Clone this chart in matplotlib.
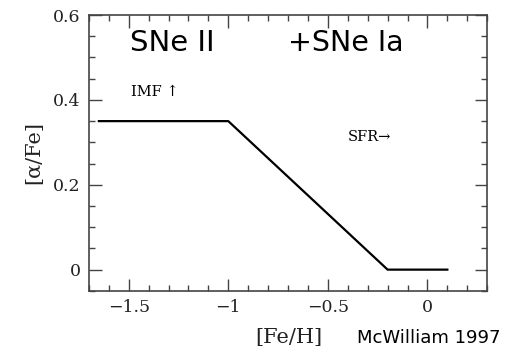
import matplotlib
matplotlib.use('Agg')
import matplotlib.pyplot as plt
from matplotlib.ticker import MultipleLocator, FuncFormatter

# schematic [alpha/Fe] vs [Fe/H] track
fe_h = [-1.65, -1.0, -0.2, 0.1]
alpha_fe = [0.35, 0.35, 0.0, 0.0]

x_ticks = [-1.5, -1.0, -0.5, 0.0]
y_ticks = [0.0, 0.2, 0.4, 0.6]

plt.rcParams['font.family'] = 'DejaVu Serif'
plt.rcParams['axes.unicode_minus'] = True

fig = plt.figure(figsize=(5.08, 3.5), dpi=100)
ax = fig.add_axes([0.175, 0.169, 0.784, 0.788])

ax.plot(fe_h, alpha_fe, color='black', lw=1.6)

ax.set_xlim(-1.70, 0.30)
ax.set_ylim(-0.05, 0.60)
ax.set_xticks(x_ticks)
ax.set_yticks(y_ticks)
ax.xaxis.set_minor_locator(MultipleLocator(0.1))
ax.yaxis.set_minor_locator(MultipleLocator(0.05))

def fmt(v, pos):
    if abs(v) < 1e-9:
        return '0'
    s = f'{v:g}'
    return s.replace('-', '\u2212')

ax.xaxis.set_major_formatter(FuncFormatter(fmt))
ax.yaxis.set_major_formatter(FuncFormatter(fmt))

ax.tick_params(which='both', direction='in', top=True, right=True,
               color='#444444', width=1.0, labelsize=12.5, labelcolor='#222222')
ax.tick_params(which='major', length=9, pad=6)
ax.tick_params(which='minor', length=4.5)
for sp in ax.spines.values():
    sp.set_color('#444444')
    sp.set_linewidth(1.2)

# axis labels placed by hand
ax.text(-0.138, 0.5, '[\u03b1/Fe]', transform=ax.transAxes, rotation=90,
        fontsize=15, color='#222222', ha='center', va='center')
ax.text(0.503, -0.17, '[Fe/H]', transform=ax.transAxes,
        fontsize=15, color='#222222', ha='center', va='center')

ax.text(-1.28, 0.535, 'SNe II', family='DejaVu Sans', fontsize=21,
        ha='center', va='center')
ax.text(-0.41, 0.535, '+SNe Ia', family='DejaVu Sans', fontsize=20.5,
        ha='center', va='center')
ax.text(-1.49, 0.418, 'IMF \u2191', fontsize=10.5, ha='left', va='center')
ax.text(-0.40, 0.312, 'SFR\u2192', fontsize=10.5, ha='left', va='center')

fig.text(0.985, 0.034, 'McWilliam 1997', family='DejaVu Sans', fontsize=13,
         ha='right', va='center')

fig.savefig('out.png', dpi=100)
